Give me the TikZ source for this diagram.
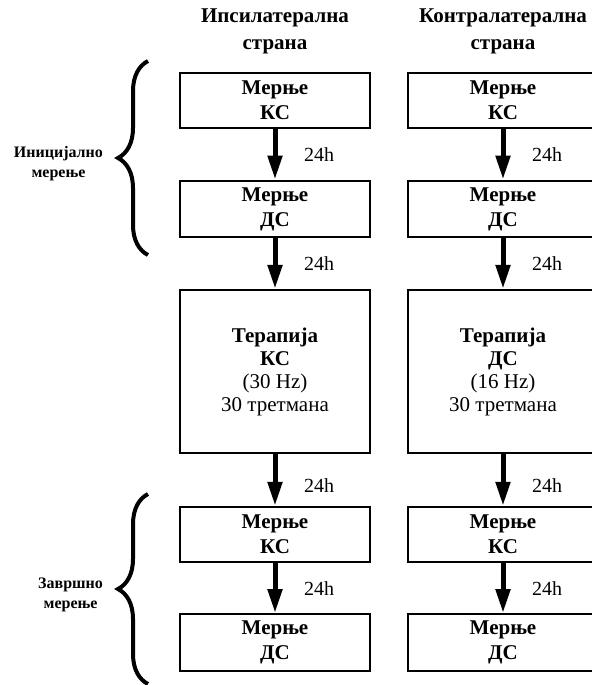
\documentclass[tikz,border=0pt]{standalone}
\usepackage{fontspec}
\setmainfont{Liberation Serif}
\usetikzlibrary{arrows.meta,calc,positioning,decorations.pathreplacing}
\tikzset{%
	block/.style    = {draw, rectangle, line width=1.2pt, minimum width=95pt, minimum height=27.5pt, align=center, font=\fontsize{10.5}{12.5}\selectfont\bfseries},
	bigblock/.style = {block, minimum height=81.5pt, font=\fontsize{10.5}{11.5}\selectfont},
	header/.style   = {align=center, font=\fontsize{10.5}{13.5}\selectfont\bfseries},
	phase/.style    = {align=center, font=\fontsize{8}{10}\selectfont\bfseries},
	flow/.style     = {line width=2.5pt, -{Triangle[length=12pt, width=7pt]}},
	hours/.style    = {right, xshift=10pt, font=\fontsize{10}{12}\selectfont},
	curly/.style    = {decorate, decoration={brace, amplitude=15pt}, line width=2pt},
}
\begin{document}
\begin{tikzpicture}
		\useasboundingbox (0,0) rectangle (296pt,-342.5pt);
		\clip (0,0) rectangle (296pt,-342.5pt);
		% left column
		\node [block] (LK1) at (137.5pt,-50.25pt) {Мерње\\КС};
		\node [block] (LD1) [below of=LK1,node distance=54.25pt] {Мерње\\ДС};
		\node [bigblock] (LT) [below of=LD1,node distance=81.25pt] {\textbf{Терапија}\\\textbf{КС}\\(30 Hz)\\30 третмана};
		\node [block] (LK2) [below of=LT,node distance=81.5pt] {Мерње\\КС};
		\node [block] (LD2) [below of=LK2,node distance=54pt] {Мерње\\ДС};
		% right column
		\node [block] (RK1) [right of=LK1,node distance=114pt] {Мерње\\КС};
		\node [block] (RD1) [right of=LD1,node distance=114pt] {Мерње\\ДС};
		\node [bigblock] (RT) [right of=LT,node distance=114pt] {\textbf{Терапија}\\\textbf{ДС}\\(16 Hz)\\30 третмана};
		\node [block] (RK2) [right of=LK2,node distance=114pt] {Мерње\\КС};
		\node [block] (RD2) [right of=LD2,node distance=114pt] {Мерње\\ДС};
		% headers
		\node [header] (HL) [above of=LK1,node distance=34.75pt] {Ипсилатерална\\страна};
		\node [header] (HR) [above of=RK1,node distance=34.75pt] {Контралатерална\\страна};
		% arrows
		\draw[flow] (LK1) -- node[hours] {24h} (LD1);
		\draw[flow] (LD1) -- node[hours] {24h} (LT);
		\draw[flow] (LT) -- node[hours,pos=0.6] {24h} (LK2);
		\draw[flow] (LK2) -- node[hours] {24h} (LD2);
		\draw[flow] (RK1) -- node[hours] {24h} (RD1);
		\draw[flow] (RD1) -- node[hours] {24h} (RT);
		\draw[flow] (RT) -- node[hours,pos=0.6] {24h} (RK2);
		\draw[flow] (RK2) -- node[hours] {24h} (RD2);
		
		% braces
		\coordinate (B1) at (74pt,-127.5pt);
		\coordinate (T1) at (74pt,-30.5pt);
		\coordinate (B2) at (74pt,-342pt);
		\coordinate (T2) at (74pt,-247pt);
		\draw[curly] (B1) -- (T1);
		\draw[curly] (B2) -- (T2);
		\node[phase, left=19pt of $(B1)!0.5!(T1)$, yshift=-3pt] (init) {Иницијално\\мерење};
		\node[phase, left=19pt of $(B2)!0.5!(T2)$, yshift=-3pt] (fin) {Завршно\\мерење};
		\end{tikzpicture}
\end{document}
